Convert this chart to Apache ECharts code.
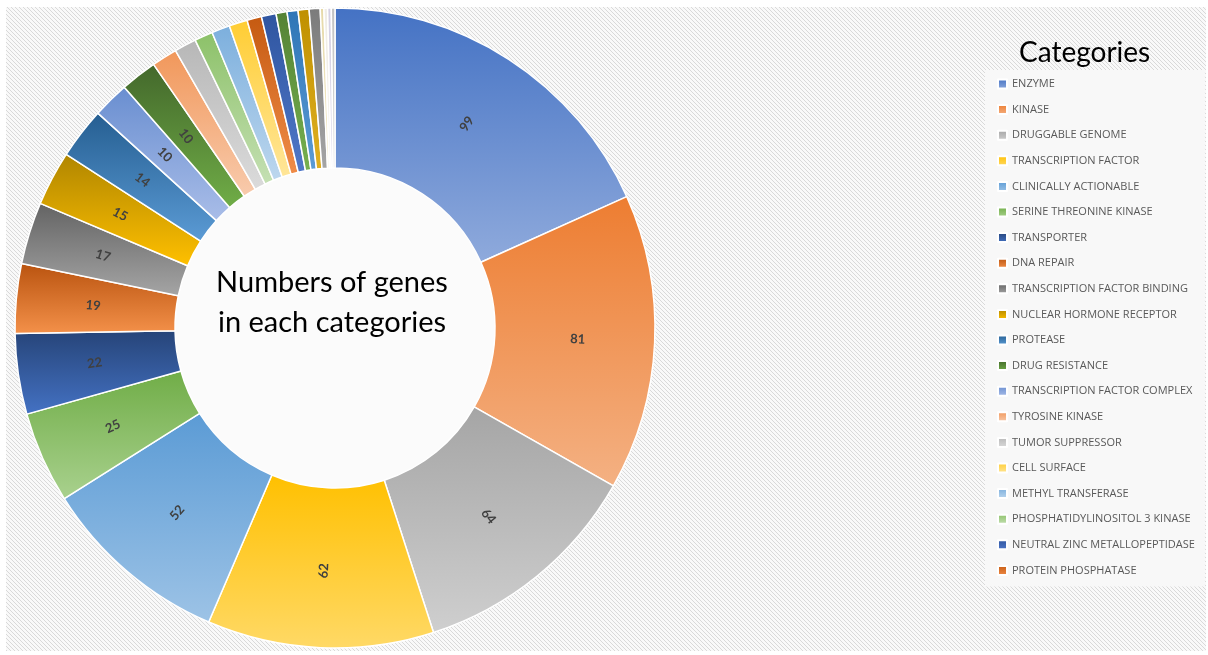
<!DOCTYPE html>
<html>
<head>
<meta charset="utf-8">
<script src="https://cdn.jsdelivr.net/npm/echarts@6/dist/echarts.min.js"></script>
<style>
  html, body { margin: 0; padding: 0; background: #ffffff; }
  #chart { width: 1208px; height: 655px; }
</style>
</head>
<body>
<div id="chart"></div>
<script>
// Slices in clockwise order, starting at 12 o'clock
const categories = [
  'ENZYME', 'KINASE', 'DRUGGABLE GENOME', 'TRANSCRIPTION FACTOR', 'CLINICALLY ACTIONABLE',
  'SERINE THREONINE KINASE', 'TRANSPORTER', 'DNA REPAIR', 'TRANSCRIPTION FACTOR BINDING',
  'NUCLEAR HORMONE RECEPTOR', 'PROTEASE', 'TRANSCRIPTION FACTOR COMPLEX', 'DRUG RESISTANCE',
  'TYROSINE KINASE', 'TUMOR SUPPRESSOR', 'PHOSPHATIDYLINOSITOL 3 KINASE', 'METHYL TRANSFERASE',
  'CELL SURFACE', 'PROTEIN PHOSPHATASE', 'NEUTRAL ZINC METALLOPEPTIDASE',
  'CATEGORY 21', 'CATEGORY 22', 'CATEGORY 23', 'CATEGORY 24',
  'CATEGORY 25', 'CATEGORY 26', 'CATEGORY 27', 'CATEGORY 28'
];
const geneCounts = [
  99, 81, 64, 62, 52,
  25, 22, 19, 17,
  15, 14, 10, 10,
  7, 6, 5, 5,
  5, 4, 4,
  3, 3, 3, 3,
  1, 1, 1, 1
];
// gradient colours per slice (top -> bottom)
const topColors = [
  '#4472c4', '#ed7d31', '#a5a5a5', '#ffc000', '#5b9bd5',
  '#70ad47', '#264478', '#b9530f', '#636363',
  '#b08600', '#255e91', '#698ed0', '#43682b',
  '#f1975a', '#b7b7b7', '#8cc168', '#7cafdd',
  '#ffcd33', '#c55a11', '#2f55a0',
  '#548235', '#2e75b6', '#bf9000', '#7b7b7b',
  '#e6d9a8', '#efece4', '#d3cfe2', '#c3c3c3'
];
const bottomColors = [
  '#8faadc', '#f4b183', '#cfcfcf', '#ffd966', '#9dc3e6',
  '#a9d18e', '#4472c4', '#f4914a', '#a5a5a5',
  '#ffc000', '#5b9bd5', '#a9bde8', '#70ad47',
  '#f8cbad', '#dbdbdb', '#c5e0b4', '#bdd7ee',
  '#ffe699', '#f08c48', '#5078c8',
  '#76b04f', '#5b9bd5', '#e0b020', '#a5a5a5',
  '#f3ebcc', '#f7f5f0', '#e3e0ee', '#dadada'
];
// Legend entries, in listed order
const legendNames = [
  'ENZYME', 'KINASE', 'DRUGGABLE GENOME', 'TRANSCRIPTION FACTOR', 'CLINICALLY ACTIONABLE',
  'SERINE THREONINE KINASE', 'TRANSPORTER', 'DNA REPAIR', 'TRANSCRIPTION FACTOR BINDING',
  'NUCLEAR HORMONE RECEPTOR', 'PROTEASE', 'DRUG RESISTANCE', 'TRANSCRIPTION FACTOR COMPLEX',
  'TYROSINE KINASE', 'TUMOR SUPPRESSOR', 'CELL SURFACE', 'METHYL TRANSFERASE',
  'PHOSPHATIDYLINOSITOL 3 KINASE', 'NEUTRAL ZINC METALLOPEPTIDASE', 'PROTEIN PHOSPHATASE'
];
const labelMin = 10; // only slices this large carry a value label

const CX = 335, CY = 328, R_IN = 160, R_OUT = 320;

// diagonal hatch tile for the chart background
function hatchTile() {
  const n = 4;
  const c = document.createElement('canvas');
  c.width = n; c.height = n;
  const g = c.getContext('2d');
  g.fillStyle = '#f9f9f9';
  g.fillRect(0, 0, n, n);
  for (let i = 0; i < n; i++) {
    g.fillStyle = '#d9d9d9';
    g.fillRect(i, i, 1, 1);
  }
  return c;
}

const pieData = categories.map((name, i) => ({
  name: name,
  value: geneCounts[i],
  itemStyle: {
    color: new echarts.graphic.LinearGradient(0, 0, 0, 1, [
      { offset: 0, color: topColors[i] },
      { offset: 1, color: bottomColors[i] }
    ])
  },
  label: { show: geneCounts[i] >= labelMin }
}));

const chart = echarts.init(document.getElementById('chart'), null, { renderer: 'canvas' });
chart.setOption({
  animation: false,
  backgroundColor: '#ffffff',
  graphic: [
    {
      type: 'rect', z: -10, silent: true,
      shape: { x: 6, y: 7, width: 1200, height: 644 },
      style: { fill: { image: hatchTile(), repeat: 'repeat' } }
    },
    {
      type: 'circle', z: -9, silent: true,
      shape: { cx: CX, cy: CY, r: R_IN },
      style: { fill: '#fbfbfb' }
    },
    {
      type: 'text', z: 10, silent: true,
      x: 332, y: 303,
      style: {
        text: 'Numbers of genes\nin each categories',
        align: 'center', verticalAlign: 'middle',
        font: '29px Lato', lineHeight: 40, fill: '#000000'
      }
    }
  ],
  title: {
    text: 'Categories',
    left: 1014, top: 34,
    textStyle: { fontFamily: 'Lato', fontSize: 28, fontWeight: 'normal', color: '#000000' }
  },
  legend: {
    data: legendNames,
    orient: 'vertical',
    left: 985, top: 70,
    padding: [7, 10, 9, 12],
    itemWidth: 9, itemHeight: 9, itemGap: 11.6,
    icon: 'rect',
    backgroundColor: '#f8f8f8',
    selectedMode: false,
    textStyle: { color: '#595959', fontSize: 11, fontFamily: 'Open Sans', lineHeight: 14 }
  },
  series: [{
    type: 'pie',
    center: [CX, CY],
    radius: [R_IN, R_OUT],
    startAngle: 90,
    clockwise: true,
    avoidLabelOverlap: false,
    itemStyle: { borderColor: '#ffffff', borderWidth: 1.5 },
    label: {
      position: 'inside',
      rotate: 'radial',
      formatter: '{c}',
      color: '#404040',
      fontFamily: 'Lato',
      fontWeight: 'bold',
      fontSize: 13
    },
    labelLine: { show: false },
    emphasis: { disabled: true },
    data: pieData
  }]
});
</script>
</body>
</html>
